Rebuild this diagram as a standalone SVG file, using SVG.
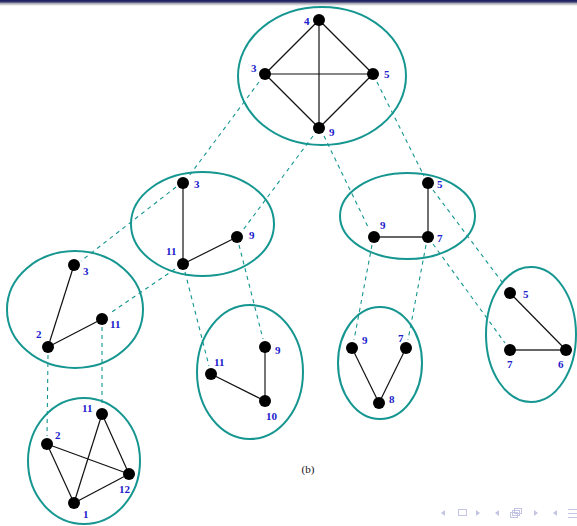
<svg xmlns="http://www.w3.org/2000/svg" width="577" height="526" viewBox="0 0 577 526">
<defs>
<linearGradient id="bar" x1="0" y1="0" x2="0" y2="1">
<stop offset="0" stop-color="#1a1a60"/>
<stop offset="0.35" stop-color="#3a3a70"/>
<stop offset="0.5" stop-color="#9a9aa8"/>
<stop offset="1" stop-color="#ffffff"/>
</linearGradient>
<style>
.cl{fill:none;stroke:#169690;stroke-width:2}
.e{stroke:#111;stroke-width:1.2;fill:none}
.g{stroke:#666;stroke-width:1.8;fill:none}
.d{stroke:#169690;stroke-width:1.1;stroke-dasharray:4 4;fill:none}
.n{fill:#000}
.l{font-family:"Liberation Serif",serif;font-weight:bold;font-size:11px;fill:#2020cc}
.nav{fill:#c4c4e4;stroke:none}
.navs{fill:none;stroke:#c4c4e4;stroke-width:1}
</style>
</defs>
<rect x="0" y="0" width="577" height="6" fill="url(#bar)"/>

<g id="connectors">
<line class="d" x1="259" y1="82" x2="189" y2="176"/>
<line class="d" x1="313" y1="136" x2="243" y2="230"/>
<line class="d" x1="324" y1="136" x2="369" y2="229"/>
<line class="d" x1="377" y1="82" x2="424" y2="176"/>
<line class="d" x1="176" y1="187" x2="81" y2="261"/>
<line class="d" x1="175" y1="269" x2="109" y2="314"/>
<line class="d" x1="185" y1="272" x2="209" y2="366"/>
<line class="d" x1="239" y1="245" x2="263" y2="339"/>
<line class="d" x1="372" y1="245" x2="354" y2="340"/>
<line class="d" x1="426" y1="245" x2="408" y2="340"/>
<line class="d" x1="433" y1="244" x2="505" y2="343"/>
<line class="d" x1="433" y1="190" x2="505" y2="286"/>
<line class="d" x1="48" y1="355" x2="47" y2="436"/>
<line class="d" x1="102" y1="327" x2="102" y2="406"/>
</g>

<g id="top">
<ellipse class="cl" cx="322" cy="76" rx="84" ry="69"/>
<line class="e" x1="319" y1="20" x2="265" y2="74"/>
<line class="e" x1="319" y1="20" x2="373" y2="74"/>
<line class="e" x1="319" y1="20" x2="319" y2="128"/>
<line class="e" x1="265" y1="74" x2="373" y2="74"/>
<line class="e" x1="265" y1="74" x2="319" y2="128"/>
<line class="e" x1="373" y1="74" x2="319" y2="128"/>
<circle class="n" cx="319" cy="20" r="6"/>
<circle class="n" cx="265" cy="74" r="6"/>
<circle class="n" cx="373" cy="74" r="6"/>
<circle class="n" cx="319" cy="128" r="6"/>
<text class="l" x="304" y="25">4</text>
<text class="l" x="251" y="72">3</text>
<text class="l" x="384" y="78">5</text>
<text class="l" x="329" y="136">9</text>
</g>

<g id="midleft">
<ellipse class="cl" cx="202.5" cy="224" rx="71.5" ry="52"/>
<line class="e" x1="183" y1="183" x2="183" y2="264"/>
<line class="e" x1="183" y1="264" x2="237" y2="237"/>
<circle class="n" cx="183" cy="183" r="6"/>
<circle class="n" cx="237" cy="237" r="6"/>
<circle class="n" cx="183" cy="264" r="6"/>
<text class="l" x="194" y="188">3</text>
<text class="l" x="249" y="239">9</text>
<text class="l" x="166" y="255">11</text>
</g>

<g id="midright">
<ellipse class="cl" cx="407.5" cy="216" rx="67.5" ry="43"/>
<line class="e" x1="428" y1="183" x2="428" y2="237"/>
<line class="g" x1="374" y1="237" x2="428" y2="237"/>
<circle class="n" cx="428" cy="183" r="6"/>
<circle class="n" cx="374" cy="237" r="6"/>
<circle class="n" cx="428" cy="237" r="6"/>
<text class="l" x="437" y="188">5</text>
<text class="l" x="380" y="229">9</text>
<text class="l" x="437" y="242">7</text>
</g>

<g id="rowleft">
<ellipse class="cl" cx="75" cy="309.5" rx="68" ry="58.5"/>
<line class="e" x1="74" y1="265" x2="48" y2="347"/>
<line class="e" x1="48" y1="347" x2="102" y2="319"/>
<circle class="n" cx="74" cy="265" r="6"/>
<circle class="n" cx="102" cy="319" r="6"/>
<circle class="n" cx="48" cy="347" r="6"/>
<text class="l" x="83" y="275">3</text>
<text class="l" x="110" y="328">11</text>
<text class="l" x="36" y="338">2</text>
</g>

<g id="rowmid">
<ellipse class="cl" cx="250" cy="372" rx="53" ry="67"/>
<line class="g" x1="265" y1="347" x2="265" y2="401"/>
<line class="e" x1="211" y1="374" x2="265" y2="401"/>
<circle class="n" cx="265" cy="347" r="6"/>
<circle class="n" cx="211" cy="374" r="6"/>
<circle class="n" cx="265" cy="401" r="6"/>
<text class="l" x="275" y="354">9</text>
<text class="l" x="214" y="366">11</text>
<text class="l" x="266" y="420">10</text>
</g>

<g id="rowcenter">
<ellipse class="cl" cx="380" cy="363" rx="42" ry="56"/>
<line class="e" x1="352" y1="348" x2="379" y2="403"/>
<line class="e" x1="406" y1="348" x2="379" y2="403"/>
<circle class="n" cx="352" cy="348" r="6"/>
<circle class="n" cx="406" cy="348" r="6"/>
<circle class="n" cx="379" cy="403" r="6"/>
<text class="l" x="362" y="344">9</text>
<text class="l" x="398" y="342">7</text>
<text class="l" x="389" y="403">8</text>
</g>

<g id="rowright">
<ellipse class="cl" cx="531" cy="334.5" rx="45" ry="67.5"/>
<line class="e" x1="510" y1="293" x2="566" y2="350"/>
<line class="g" x1="510" y1="350" x2="566" y2="350"/>
<circle class="n" cx="510" cy="293" r="6"/>
<circle class="n" cx="510" cy="350" r="6"/>
<circle class="n" cx="566" cy="350" r="6"/>
<text class="l" x="523" y="298">5</text>
<text class="l" x="507" y="368">7</text>
<text class="l" x="558" y="368">6</text>
</g>

<g id="bottom">
<ellipse class="cl" cx="84" cy="461" rx="56" ry="63"/>
<line class="e" x1="47" y1="444" x2="74" y2="503"/>
<line class="e" x1="47" y1="444" x2="129" y2="474"/>
<line class="e" x1="102" y1="414" x2="74" y2="503"/>
<line class="e" x1="102" y1="414" x2="129" y2="474"/>
<line class="e" x1="74" y1="503" x2="129" y2="474"/>
<circle class="n" cx="102" cy="414" r="6"/>
<circle class="n" cx="47" cy="444" r="6"/>
<circle class="n" cx="129" cy="474" r="6"/>
<circle class="n" cx="74" cy="503" r="6"/>
<text class="l" x="82" y="412">11</text>
<text class="l" x="55" y="439">2</text>
<text class="l" x="119" y="493">12</text>
<text class="l" x="83" y="518">1</text>
</g>

<text x="308" y="473" text-anchor="middle" font-family="'Liberation Serif',serif" font-size="11px" fill="#111">(b)</text>

<g id="nav">
<polygon class="nav" points="445,510 445,516 441,513"/>
<rect class="navs" x="458.5" y="509.5" width="8" height="6"/>
<polygon class="nav" points="476,510 476,516 480,513"/>
<polygon class="nav" points="499,510 499,516 495,513"/>
<rect class="navs" x="514.5" y="508.5" width="7" height="5"/>
<rect class="navs" x="512.5" y="510.5" width="7" height="5" fill="#fff"/>
<rect class="navs" x="510.5" y="512.5" width="7" height="5" fill="#fff"/>
<polygon class="nav" points="534,510 534,516 538,513"/>
<polygon class="nav" points="557,510 557,516 553,513"/>
<line class="navs" x1="568" y1="509.5" x2="577" y2="509.5"/>
<line class="navs" x1="568" y1="513.5" x2="577" y2="513.5"/>
<line class="navs" x1="568" y1="517.5" x2="577" y2="517.5"/>
</g>
</svg>
